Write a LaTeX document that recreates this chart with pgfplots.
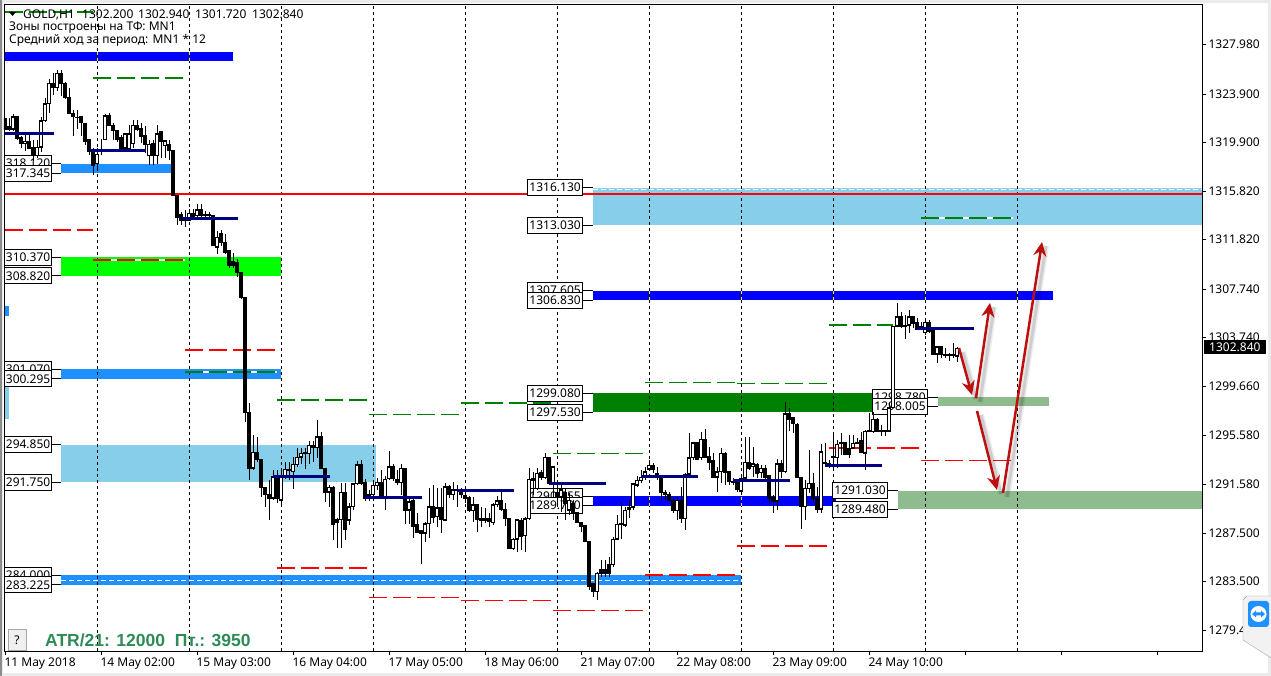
\documentclass[border=0pt]{standalone}
\usepackage{fontspec}
\setmainfont{Noto Sans}
\newfontfamily\atrfont{Liberation Sans}
\usepackage{pgfplots}
\usepackage{pgfplotstable}
\pgfplotsset{compat=1.18}
\usetikzlibrary{arrows.meta}

% hourly bars GOLD,H1, one row per bar, bar i sits at x=5+4i
\pgfplotstableread{
o h l c
1321.9 1322.0 1320.9 1321.0
1321.2 1321.9 1320.8 1321.0
1321.0 1322.2 1320.8 1322.0
1322.0 1322.0 1320.1 1320.2
1320.3 1320.4 1319.4 1319.8
1319.8 1320.6 1319.2 1320.0
1320.0 1320.6 1319.3 1319.4
1319.5 1320.1 1318.3 1318.8
1318.8 1320.1 1318.6 1319.5
1319.5 1322.0 1319.1 1321.7
1321.7 1323.6 1321.6 1323.1
1323.1 1325.1 1322.3 1324.8
1324.8 1325.6 1323.8 1324.4
1324.4 1325.9 1324.1 1325.6
1325.6 1325.9 1323.7 1324.8
1324.8 1324.9 1323.5 1323.6
1323.6 1324.4 1322.2 1322.3
1322.3 1322.6 1320.4 1322.0
1322.0 1322.6 1321.0 1321.95
1322.0 1322.0 1320.4 1321.5
1321.5 1321.5 1319.7 1320.0
1320.1 1320.1 1318.8 1319.1
1319.1 1319.4 1317.2 1318.0
1318.1 1319.4 1317.6 1318.9
1319.3 1320.2 1318.8 1319.2
1320.1 1322.2 1320.1 1322.1
1322.1 1322.3 1321.2 1321.3
1321.3 1321.5 1320.1 1320.9
1320.9 1320.9 1319.9 1320.1
1320.3 1320.5 1319.3 1319.4
1319.4 1320.6 1319.3 1320.6
1319.3 1321.3 1319.1 1320.6
1319.8 1321.7 1319.4 1321.3
1321.3 1321.7 1320.8 1321.0
1321.0 1321.5 1319.8 1320.4
1320.5 1321.2 1319.0 1319.75
1318.8 1320.1 1318.0 1319.75
1319.8 1320.1 1318.0 1318.8
1318.8 1321.3 1318.1 1320.6
1320.8 1320.8 1318.6 1320.0
1319.6 1320.1 1318.6 1320.0
1319.7 1320.1 1318.4 1319.2
1319.2 1319.2 1315.4 1315.5
1315.5 1315.5 1313.0 1313.7
1313.9 1314.1 1313.0 1313.4
1313.7 1314.3 1312.9 1313.4
1313.4 1314.4 1313.4 1314.0
1314.0 1314.4 1313.5 1313.7
1313.8 1314.8 1313.5 1314.3
1314.3 1314.8 1313.5 1313.8
1313.9 1314.2 1313.5 1313.85
1313.9 1314.1 1313.5 1313.8
1313.8 1313.9 1311.3 1311.3
1311.2 1312.5 1310.6 1312.0
1312.3 1312.6 1311.3 1311.55
1311.6 1312.3 1310.6 1310.8
1310.9 1311.0 1309.5 1309.7
1310.0 1310.7 1309.5 1309.7
1309.9 1310.2 1308.7 1309.1
1309.1 1309.1 1306.9 1307.0
1307.0 1307.0 1296.7 1297.5
1297.5 1298.3 1291.9 1292.9
1292.9 1295.6 1292.7 1294.2
1294.2 1295.5 1293.4 1293.6
1293.6 1293.6 1290.5 1291.3
1291.3 1291.3 1289.7 1290.7
1290.7 1291.9 1288.6 1290.4
1290.4 1292.7 1290.25 1292.2
1292.2 1292.7 1290.0 1290.4
1290.25 1292.7 1289.8 1292.2
1292.2 1293.4 1292.0 1292.8
1292.8 1293.4 1291.9 1292.7
1292.6 1293.8 1291.2 1293.2
1293.2 1294.6 1293.0 1293.8
1293.8 1294.6 1293.2 1294.15
1294.2 1294.6 1292.8 1294.1
1294.1 1295.1 1293.2 1294.8
1294.8 1295.1 1293.4 1294.6
1294.6 1296.9 1293.7 1295.5
1295.5 1295.9 1292.9 1292.9
1292.9 1292.9 1290.1 1290.9
1290.9 1291.5 1289.7 1291.3
1291.3 1291.4 1286.9 1288.2
1288.6 1288.8 1286.3 1288.4
1288.6 1291.7 1286.3 1290.9
1290.9 1291.7 1286.9 1287.8
1288.6 1290.0 1288.2 1289.7
1289.7 1291.7 1289.4 1291.6
1291.6 1293.5 1291.5 1293.2
1293.2 1293.6 1291.5 1291.6
1291.7 1292.0 1290.2 1290.4
1290.4 1291.1 1290.2 1290.7
1290.7 1291.7 1290.5 1291.5
1291.5 1292.1 1291.1 1291.75
1291.7 1292.7 1290.3 1290.5
1290.5 1292.2 1289.4 1292.0
1292.0 1294.3 1291.9 1293.0
1293.0 1293.2 1291.8 1292.0
1292.0 1292.7 1291.5 1291.7
1291.7 1293.2 1290.7 1292.9
1292.9 1292.9 1288.3 1289.4
1289.4 1290.4 1288.3 1290.1
1290.2 1290.4 1287.1 1288.1
1288.2 1289.2 1287.5 1287.6
1287.7 1287.7 1284.95 1287.5
1287.5 1288.4 1286.8 1288.3
1288.3 1291.25 1287.1 1289.7
1289.7 1291.5 1288.35 1288.85
1288.85 1291.25 1288.0 1289.6
1289.6 1291.25 1287.5 1288.6
1288.6 1291.65 1288.5 1291.35
1291.35 1291.5 1290.4 1290.7
1290.7 1291.75 1290.25 1291.1
1291.1 1291.5 1289.7 1291.0
1291.1 1291.25 1290.4 1290.75
1290.6 1290.7 1290.0 1290.4
1290.5 1290.6 1289.25 1289.35
1289.35 1290.5 1288.4 1289.85
1289.85 1289.85 1287.6 1288.6
1288.7 1289.7 1288.0 1288.6
1288.7 1289.6 1288.35 1288.6
1288.7 1289.2 1288.0 1288.5
1288.35 1290.0 1288.2 1289.85
1289.85 1290.6 1289.7 1290.2
1290.2 1290.9 1289.35 1289.45
1289.5 1290.0 1288.1 1288.7
1288.7 1288.75 1286.2 1286.2
1286.2 1287.1 1286.1 1287.0
1287.0 1288.7 1285.95 1288.6
1288.6 1288.75 1286.1 1287.2
1287.3 1288.85 1285.95 1288.7
1288.7 1292.9 1288.6 1292.0
1292.0 1292.6 1290.7 1291.9
1291.2 1292.9 1291.1 1292.5
1292.5 1292.7 1291.9 1292.1
1292.1 1294.15 1292.0 1293.8
1293.8 1293.85 1291.5 1291.6
1291.6 1293.0 1290.5 1293.0
1290.9 1291.65 1289.7 1290.5
1290.5 1291.5 1289.25 1291.1
1290.9 1291.25 1288.6 1290.0
1289.4 1290.85 1289.0 1290.25
1290.0 1290.25 1288.6 1289.25
1289.2 1289.25 1288.35 1288.35
1288.4 1288.45 1287.6 1288.1
1288.1 1288.1 1286.8 1286.8
1286.85 1286.85 1282.8 1283.1
1283.3 1283.4 1282.2 1282.65
1282.65 1284.3 1282.0 1284.2
1284.5 1285.3 1283.9 1284.2
1284.5 1285.3 1283.9 1284.2
1284.9 1285.5 1283.9 1284.2
1284.9 1287.2 1284.7 1287.0
1287.0 1289.0 1286.9 1288.25
1288.3 1290.0 1287.0 1288.2
1288.15 1289.7 1288.0 1289.4
1289.5 1290.25 1288.75 1289.65
1289.65 1291.65 1289.4 1291.6
1291.5 1292.2 1291.3 1291.9
1291.9 1292.7 1291.65 1292.15
1292.15 1293.0 1291.9 1292.6
1292.8 1293.6 1292.75 1293.15
1293.15 1293.3 1292.5 1292.8
1292.5 1293.0 1291.9 1292.15
1292.3 1292.35 1290.25 1290.85
1290.9 1291.05 1290.25 1290.7
1290.7 1290.9 1290.15 1290.25
1290.25 1290.5 1289.15 1289.35
1289.35 1290.5 1288.6 1290.25
1290.25 1291.35 1288.35 1288.7
1288.7 1292.5 1287.8 1292.4
1292.4 1295.8 1292.4 1293.75
1293.75 1295.05 1293.55 1295.0
1295.0 1295.05 1293.55 1293.65
1293.75 1295.9 1293.55 1295.3
1295.3 1296.15 1293.75 1293.8
1293.9 1294.65 1292.75 1293.4
1293.5 1294.15 1292.15 1292.15
1292.15 1293.0 1290.9 1292.6
1292.6 1294.55 1291.65 1294.15
1294.15 1294.2 1291.5 1292.5
1292.6 1292.6 1291.5 1291.75
1291.8 1292.05 1291.5 1291.75
1291.8 1291.9 1290.9 1291.15
1291.0 1292.2 1290.85 1292.05
1292.05 1295.45 1291.9 1293.4
1293.4 1295.45 1292.75 1292.9
1293.0 1294.65 1292.15 1293.25
1293.25 1293.3 1292.05 1292.5
1292.5 1293.15 1292.05 1292.9
1292.9 1293.15 1291.9 1292.15
1292.3 1292.35 1290.0 1290.4
1290.5 1290.7 1289.2 1290.15
1290.15 1293.65 1289.4 1293.25
1293.25 1293.6 1292.05 1292.6
1292.6 1298.4 1292.5 1297.4
1297.45 1297.9 1296.0 1296.95
1297.05 1297.15 1295.8 1296.55
1296.55 1296.6 1292.05 1292.1
1292.1 1292.1 1287.85 1289.7
1289.7 1291.9 1288.6 1291.25
1291.2 1294.4 1290.85 1291.65
1291.65 1292.5 1290.1 1290.4
1290.4 1291.35 1289.15 1289.5
1289.5 1294.9 1289.15 1294.25
1293.35 1295.0 1292.95 1293.25
1293.3 1293.6 1292.9 1293.2
1293.9 1295.65 1292.9 1293.75
1293.75 1295.2 1292.9 1294.9
1294.9 1295.8 1294.0 1295.05
1295.05 1295.05 1294.0 1294.05
1294.5 1295.65 1293.75 1294.05
1294.55 1295.65 1294.45 1294.95
1295.05 1295.4 1294.9 1295.0
1295.15 1295.9 1294.15 1294.15
1294.15 1296.05 1292.75 1295.95
1296.0 1297.45 1295.85 1295.9
1295.9 1297.55 1295.8 1296.95
1296.95 1297.05 1295.85 1295.95
1296.0 1296.45 1295.55 1295.9
1296.0 1296.05 1295.55 1295.9
1295.95 1298.3 1295.85 1297.9
1297.9 1304.7 1297.9 1304.65
1304.65 1306.55 1304.6 1305.45
1305.45 1305.85 1304.5 1304.65
1304.75 1305.6 1303.6 1304.65
1304.75 1306.0 1304.1 1305.45
1305.45 1305.5 1304.5 1304.9
1305.0 1305.3 1304.35 1304.4
1304.4 1305.0 1304.35 1304.6
1304.1 1305.15 1303.9 1305.0
1305.0 1305.15 1304.1 1304.25
1304.35 1304.4 1302.25 1302.35
1302.35 1303.0 1301.6 1302.95
1302.95 1303.0 1302.0 1302.35
1302.35 1302.85 1302.0 1302.2
1302.3 1302.4 1301.75 1302.2
1302.3 1303.25 1302.0 1302.2
1302.2 1302.94 1301.72 1302.84
}\candles

\definecolor{zblue}{RGB}{0,0,255}
\definecolor{zdodger}{RGB}{30,144,255}
\definecolor{zsky}{RGB}{135,206,235}
\definecolor{zlime}{RGB}{0,255,0}
\definecolor{zgreen}{RGB}{0,128,0}
\definecolor{zsea}{RGB}{143,188,143}
\definecolor{navyline}{RGB}{0,0,128}
\definecolor{arrowred}{RGB}{190,15,15}
\definecolor{atrgreen}{RGB}{46,139,87}

\newcommand\zone[5]{\addplot[fill=#1,draw=none] coordinates {(#2,#4)(#3,#4)(#3,#5)(#2,#5)};}
\newcommand\lvl[4]{\addplot[draw=#1,line width=1.1pt,dash pattern=on 18pt off 6pt] coordinates {(#2,#4)(#3,#4)};}
\newcommand\wlvl[4]{\addplot[white,line width=1.1pt] coordinates {(#2,#4)(#3,#4)};\lvl{#1}{#2}{#3}{#4}}
\newcommand\navy[3]{\addplot[navyline,line width=3pt] coordinates {(#1,#3)(#2,#3)};}
\newcommand\vseg[4]{\addplot[#1,line width=1pt,dash pattern=on 3pt off 3pt] coordinates {(#2,#3)(#2,#4)};}
% price box: right edge of box, left edge of the zone, price, text
\newcommand\lab[4]{\addplot[black,line width=.8pt] coordinates {(#1,#3)(#2,#3)};
  \node[labbox,anchor=east] at (axis cs:#1,#3) {#4};}
\newcommand\labl[4]{\addplot[black,line width=.8pt] coordinates {(#1,#3)(#2,#3)};
  \node[labbox,minimum width=47pt,anchor=east] at (axis cs:#1,#3) {#4};}
\newcommand\arrowline[4]{
  \addplot[black,opacity=.08,line width=6pt,shift={(4pt,-4pt)}] coordinates {(#1,#2)(#3,#4)};
  \addplot[black,opacity=.12,line width=3pt,shift={(4pt,-4pt)}] coordinates {(#1,#2)(#3,#4)};
  \addplot[arrowred,line width=2.5pt,-{Stealth[length=14pt,width=13pt]}] coordinates {(#1,#2)(#3,#4)};}

\begin{document}
\begin{tikzpicture}[
  labbox/.style={draw=black,line width=.8pt,fill=white,minimum width=55pt,minimum height=16pt,inner sep=0pt,font=\fontsize{12}{12}\selectfont},
  px/.style={x=1pt,y=-1pt,shift={(-4pt,651pt)}}]
\useasboundingbox (-4pt,-25pt) rectangle (1267pt,651pt);
\begin{scope}[px]
  \fill[black!8] (0,0) rectangle (1271,676);
  \fill[white] (3,3) rectangle (1268,673);
  \fill[black!45] (0,0) rectangle (2,676);
\end{scope}
\begin{axis}[
  width=1198pt,height=647pt,scale only axis,
  xmin=4,xmax=1202,ymin=1277.74,ymax=1331.35,
  axis line style={black,line width=.8pt},
  tick style={black,line width=.8pt},
  tick align=outside,major tick length=4pt,
  xtick pos=bottom,ytick pos=right,
  xtick={5,101,197,293,389,485,581,677,773,869,965,1061,1157},
  xticklabels={11 May 2018,14 May 02:00,15 May 03:00,16 May 04:00,17 May 05:00,18 May 06:00,21 May 07:00,22 May 08:00,23 May 09:00,24 May 10:00,,,},
  xticklabel style={anchor=north west,xshift=-4pt,yshift=1pt,font=\fontsize{12}{12}\selectfont},
  ytick={1279.42,1283.5,1287.5,1291.58,1295.58,1299.66,1303.74,1307.74,1311.82,1315.82,1319.9,1323.9,1327.98},
  yticklabels={1279.420,1283.500,1287.500,1291.580,1295.580,1299.660,1303.740,1307.740,1311.820,1315.820,1319.900,1323.900,1327.980},
  yticklabel style={anchor=west,xshift=-1pt,font=\fontsize{12}{12}\selectfont},
]
% zones
\zone{zblue}{5}{233}{1326.63}{1327.37}
\zone{zdodger}{61}{174}{1317.345}{1318.12}
\zone{zlime}{61}{281}{1308.82}{1310.37}
\zone{zdodger}{61}{281}{1300.295}{1301.07}
\zone{zsky}{61}{376}{1291.75}{1294.85}
\zone{zdodger}{61}{741}{1283.225}{1284.0}
\zone{zdodger}{5}{9}{1305.5}{1306.33}
\zone{zsky}{5}{9}{1296.97}{1299.62}
\zone{zsky}{593}{1202}{1313.03}{1316.13}
\zone{zblue}{593}{1053}{1306.83}{1307.605}
\zone{zgreen}{593}{878}{1297.53}{1299.08}
\zone{zblue}{593}{836}{1289.78}{1290.555}
\zone{zsea}{938}{1049}{1298.005}{1298.78}
\zone{zsea}{898}{1202}{1289.48}{1291.03}
\addplot[white,line width=1pt,dash pattern=on 5pt off 3pt] coordinates {(61,1283.59)(741,1283.59)};
\addplot[white,line width=1pt,dash pattern=on 5pt off 3pt] coordinates {(593,1315.94)(1202,1315.94)};
% day separators
\pgfplotsinvokeforeach{97.5,189.5,281.5,373.5,465.5,557.5,649.5,741.5,833.5,925.5,1017.5}{
  \vseg{black}{#1}{1277.74}{1331.35}
}
\pgfplotsinvokeforeach{97.5,189.5}{\vseg{yellow}{#1}{1326.63}{1327.37}}
\pgfplotsinvokeforeach{649.5,741.5,833.5,925.5,1017.5}{\vseg{yellow}{#1}{1306.83}{1307.605}}
\pgfplotsinvokeforeach{649.5,741.5}{\vseg{yellow}{#1}{1289.78}{1290.555}}
% red main level
\addplot[red,line width=2pt] coordinates {(5,1315.61)(1202,1315.61)};
% daily levels
\lvl{zgreen}{5}{93}{1330.69}
\lvl{zgreen}{93}{183}{1325.22}
\wlvl{zgreen}{185}{277}{1300.86}
\lvl{zgreen}{277}{367}{1298.54}
\lvl{zgreen}{369}{460}{1297.3}
\lvl{zgreen}{461}{553}{1298.29}
\lvl{zgreen}{553}{645}{1294.07}
\lvl{zgreen}{645}{737}{1299.95}
\lvl{zgreen}{737}{829}{1299.87}
\lvl{zgreen}{829}{893}{1304.75}
\wlvl{zgreen}{921}{1013}{1313.62}
\lvl{red}{5}{93}{1312.62}
\wlvl{red}{93}{185}{1310.14}
\lvl{red}{185}{277}{1302.68}
\lvl{red}{277}{369}{1284.62}
\lvl{red}{369}{461}{1282.14}
\lvl{red}{461}{553}{1281.89}
\lvl{red}{553}{645}{1281.06}
\lvl{red}{645}{737}{1284.04}
\lvl{red}{737}{829}{1286.44}
\lvl{red}{829}{921}{1294.56}
\lvl{red}{921}{1013}{1293.49}
% price boxes
\labl{52}{61}{1318.12}{318.120}
\labl{52}{61}{1317.345}{317.345}
\labl{52}{61}{1310.37}{310.370}
\labl{52}{61}{1308.82}{308.820}
\labl{52}{61}{1301.07}{301.070}
\labl{52}{61}{1300.295}{300.295}
\labl{52}{61}{1294.85}{294.850}
\labl{52}{61}{1291.75}{291.750}
\labl{52}{61}{1284.0}{284.000}
\labl{52}{61}{1283.225}{283.225}
\lab{583}{593}{1316.13}{1316.130}
\lab{583}{593}{1313.03}{1313.030}
\lab{583}{593}{1307.605}{1307.605}
\lab{583}{593}{1306.83}{1306.830}
\lab{583}{593}{1299.08}{1299.080}
\lab{583}{593}{1297.53}{1297.530}
\lab{583}{593}{1290.555}{1290.555}
\lab{583}{593}{1289.78}{1289.780}
\lab{928}{938}{1298.78}{1298.780}
\lab{928}{938}{1298.005}{1298.005}
\lab{888}{898}{1291.03}{1291.030}
\lab{888}{898}{1289.48}{1289.480}
% candles: wicks, bodies, white inside of the rising ones
\addplot[draw=none,mark=none,error bars/.cd,y dir=both,y explicit,error mark=none,
  error bar style={black,line width=1pt}]
  table[x expr=5+4*\coordindex,y=o,y error plus expr=\thisrow{h}-\thisrow{o},y error minus expr=\thisrow{o}-\thisrow{l}] {\candles};
\addplot[draw=none,mark=none,error bars/.cd,y dir=both,y explicit,error mark=none,
  error bar style={black,line width=3.2pt}]
  table[x expr=5+4*\coordindex,y expr=(\thisrow{o}+\thisrow{c})/2,y error expr={abs(\thisrow{c}-\thisrow{o})/2+0.04}] {\candles};
\addplot[draw=none,mark=none,error bars/.cd,y dir=both,y explicit,error mark=none,
  error bar style={white,line width=1.4pt}]
  table[x expr=5+4*\coordindex,y expr=(\thisrow{o}+\thisrow{c})/2,y error expr={max((\thisrow{c}-\thisrow{o})/2-0.08,0)}] {\candles};
% session lines
\navy{5}{54}{1320.58}
\navy{90}{146}{1319.17}
\navy{182}{238}{1313.54}
\navy{273}{330}{1292.24}
\navy{365}{422}{1290.42}
\navy{457}{514}{1291.0}
\navy{549}{606}{1291.66}
\navy{641}{698}{1292.16}
\navy{733}{790}{1291.83}
\navy{825}{882}{1293.15}
\navy{917}{974}{1304.5}
% hand drawn arrows
\arrowline{959}{1302.85}{972}{1298.95}
\arrowline{976}{1298.7}{990}{1306.58}
\arrowline{977}{1297.63}{997}{1291.08}
\arrowline{1003}{1290.84}{1042}{1311.63}
\end{axis}
\begin{scope}[px]
  \fill[black] (9,12) -- (16,12) -- (12.5,16) -- cycle;
  \begin{scope}[every node/.style={anchor=west,inner sep=0pt,font=\fontsize{12}{12}\selectfont}]
    \node at (23,14.5) {GOLD,H1};
    \node at (82,14.5) {1302.200};
    \node at (138,14.5) {1302.940};
    \node at (195,14.5) {1301.720};
    \node at (252,14.5) {1302.840};
    \node at (9,28) {Зоны построены на ТФ: MN1};
    \node at (9,40) {Средний ход за период: MN1 * 12};
  \end{scope}
  \node[anchor=west,inner sep=0pt,text=atrgreen,font=\atrfont\bfseries\fontsize{17.5}{18}\selectfont] at (45,640) {ATR/21: 12000\ \ Пт.: 3950};
  \draw[black!35,fill=black!6] (8,629) rectangle (26,650);
  \node[font=\fontsize{12}{12}\selectfont] at (17,640) {?};
  \fill[black] (1204,340) rectangle (1266,354);
  \node[text=white,anchor=west,inner sep=0pt,font=\fontsize{12}{12}\selectfont] at (1209,347) {1302.840};
  \fill[black!5] (1272,596) -- (1243,596) -- (1243,640) -- (1272,658) -- cycle;
  \draw[black!35] (1272,596) -- (1247,596) -- (1243,600) -- (1243,640) -- (1271,658);
  \fill[zdodger,rounded corners=3pt] (1248,601) rectangle (1269,627);
  \fill[white] (1258.5,614) circle (8pt);
  \fill[zdodger] (1252,614) -- (1256,610.5) -- (1256,612.5) -- (1261,612.5) -- (1261,610.5) -- (1265,614) -- (1261,617.5) -- (1261,615.5) -- (1256,615.5) -- (1256,617.5) -- cycle;
\end{scope}
\end{tikzpicture}
\end{document}
